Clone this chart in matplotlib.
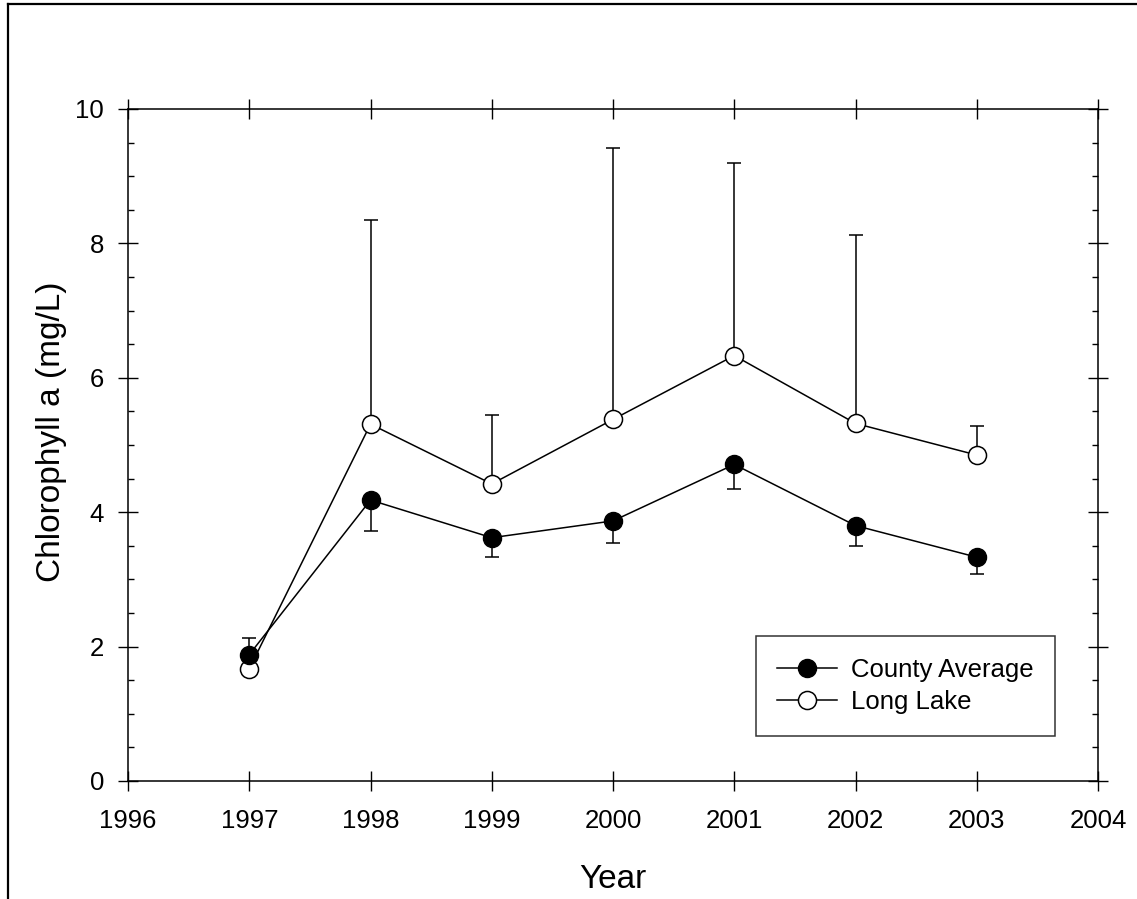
import numpy as np
import matplotlib.pyplot as plt
from matplotlib.lines import Line2D
from matplotlib.ticker import MultipleLocator

plt.rcParams['font.family'] = ['Liberation Sans', 'DejaVu Sans']

# Data
years = [1997, 1998, 1999, 2000, 2001, 2002, 2003]
county = [1.88, 4.18, 3.62, 3.87, 4.71, 3.80, 3.33]
county_lo = [0.00, 0.46, 0.29, 0.33, 0.37, 0.31, 0.25]
county_hi = [0.25, 0.00, 0.00, 0.00, 0.00, 0.00, 0.00]
longlake = [1.67, 5.31, 4.42, 5.38, 6.33, 5.32, 4.85]
longlake_lo = [0, 0, 0, 0, 0, 0, 0]
longlake_hi = [0.00, 3.04, 1.03, 4.04, 2.87, 2.80, 0.43]

fig = plt.figure(figsize=(11.37, 8.99), dpi=100)
ax = fig.add_axes([0.1126, 0.1313, 0.8531, 0.7475])

# outer frame (clipped at right/bottom like the original)
fig.add_artist(Line2D([0.0066, 0.0066], [0, 0.995], color='black', lw=1.6))
fig.add_artist(Line2D([0.0066, 1.0], [0.995, 0.995], color='black', lw=1.6))

ax.errorbar(years, county, yerr=[county_lo, county_hi], fmt='none',
            ecolor='black', elinewidth=1.1, capsize=5, capthick=1.1, zorder=2)
ax.errorbar(years, longlake, yerr=[longlake_lo, longlake_hi], fmt='none',
            ecolor='black', elinewidth=1.1, capsize=5, capthick=1.1, zorder=2)

ax.plot(years, longlake, color='black', lw=1.1, marker='o', markersize=13,
        markerfacecolor='white', markeredgecolor='black', markeredgewidth=1.1,
        label='Long Lake', zorder=3)
ax.plot(years, county, color='black', lw=1.1, marker='o', markersize=13,
        markerfacecolor='black', markeredgecolor='black',
        label='County Average', zorder=4)

ax.set_xlim(1996, 2004)
ax.set_ylim(0, 10)
ax.xaxis.set_major_locator(MultipleLocator(1))
ax.yaxis.set_major_locator(MultipleLocator(2))
ax.yaxis.set_minor_locator(MultipleLocator(0.5))

ax.tick_params(which='major', direction='inout', length=14.4, width=1,
               top=True, right=True, labelsize=18.5)
ax.tick_params(axis='x', which='major', pad=13)
ax.tick_params(axis='y', which='major', pad=10)
ax.tick_params(which='minor', direction='in', length=4.5, width=1,
               left=True, right=True)
for s in ax.spines.values():
    s.set_linewidth(1.1)

ax.set_xlabel('Year', fontsize=24)
ax.set_ylabel('Chlorophyll a (mg/L)', fontsize=24)
ax.xaxis.set_label_coords(0.5, -0.123)
ax.yaxis.set_label_coords(-0.063, 0.52)

handles, labels = ax.get_legend_handles_labels()
leg = ax.legend(handles[::-1], labels[::-1], loc='upper left',
                bbox_to_anchor=(0.647, 0.216), fontsize=18.5, frameon=True,
                fancybox=False, edgecolor='black', handlelength=2.3,
                borderpad=0.85, labelspacing=0.32, handletextpad=0.55,
                borderaxespad=0)
leg.get_frame().set_linewidth(1.1)

fig.savefig('out.png', dpi=100)
